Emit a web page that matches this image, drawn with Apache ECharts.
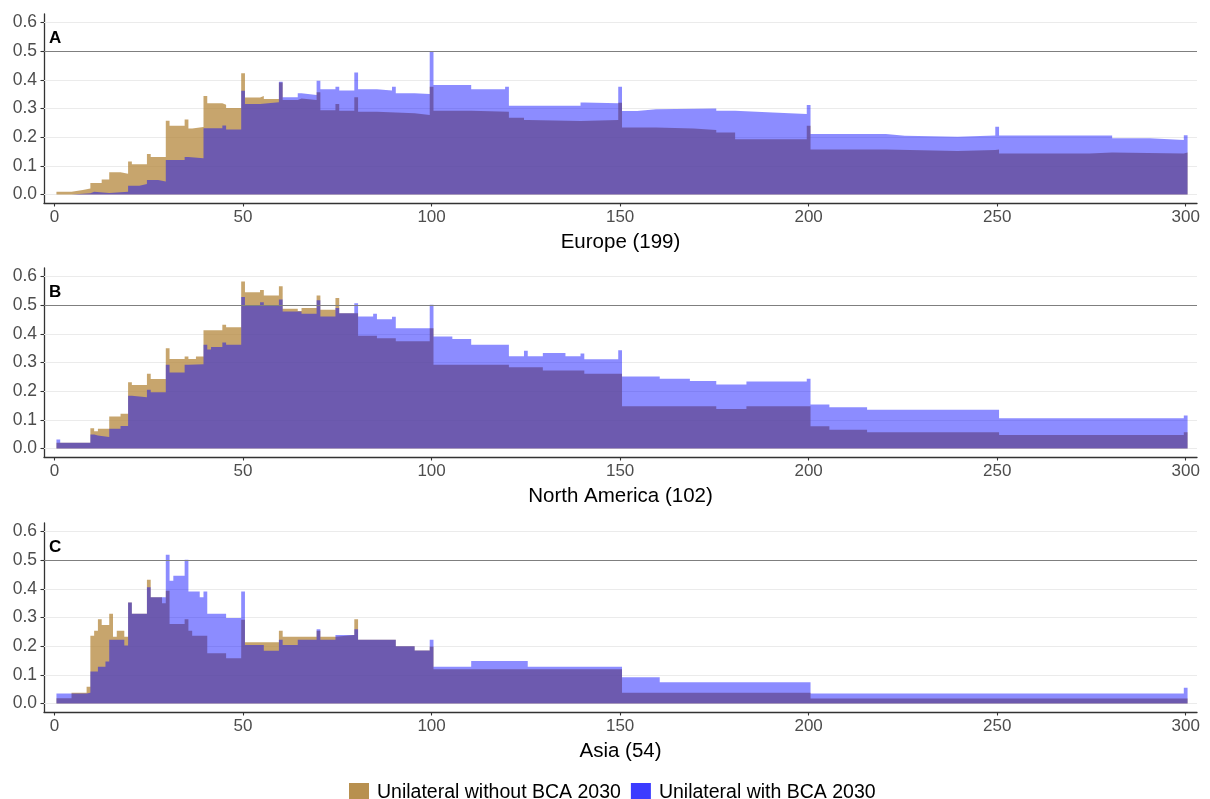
<!DOCTYPE html>
<html>
<head>
<meta charset="utf-8">
<script src="https://cdn.jsdelivr.net/npm/echarts@6/dist/echarts.min.js"></script>
<style>
html,body{margin:0;padding:0;background:#fff;}
#chart{width:1210px;height:799px;}
</style>
</head>
<body>
<div id="chart"></div>
<script>
// ---- data: [fromX, toX, share] step segments ----
const seriesNames = ['Unilateral without BCA 2030', 'Unilateral with BCA 2030'];
const panelTitles = ['Europe (199)', 'North America (102)', 'Asia (54)'];
const panelLetters = ['A', 'B', 'C'];
const xTicks = [0, 50, 100, 150, 200, 250, 300];
const yTicks = [0, 0.1, 0.2, 0.3, 0.4, 0.5, 0.6];
const refLine = 0.5;

const europeWithout = [[1,4,0.009],[5,7,0.015],[8,9,0.021],[10,12,0.040],[13,14,0.052],[15,17,0.077],[18,19,0.072],[20,20,0.115],[21,24,0.105],[25,25,0.141],[26,29,0.131],[30,30,0.257],[31,34,0.240],[35,35,0.262],[36,36,0.230],[37,39,0.235],[40,40,0.344],[41,44,0.318],[45,45,0.313],[46,49,0.302],[50,50,0.423],[51,54,0.338],[55,55,0.344],[56,59,0.333],[60,60,0.391],[61,64,0.330],[65,65,0.335],[66,69,0.330],[70,70,0.357],[71,74,0.294],[75,75,0.316],[76,79,0.292],[80,80,0.339],[81,85,0.289],[86,90,0.286],[91,95,0.283],[96,99,0.277],[100,100,0.376],[101,110,0.292],[111,120,0.289],[121,124,0.268],[125,125,0.260],[126,139,0.256],[140,149,0.260],[150,150,0.320],[151,159,0.234],[160,169,0.230],[170,175,0.225],[176,180,0.216],[181,199,0.193],[200,200,0.240],[201,220,0.157],[221,239,0.152],[240,249,0.155],[250,250,0.157],[251,274,0.143],[275,280,0.146],[281,299,0.143],[300,300,0.146]];
const europeWith = [[1,4,0.0],[5,9,0.004],[10,10,0.009],[11,14,0.005],[15,19,0.009],[20,22,0.030],[23,24,0.036],[25,27,0.050],[28,29,0.045],[30,34,0.120],[35,35,0.131],[36,39,0.126],[40,44,0.231],[45,45,0.241],[46,49,0.227],[50,50,0.362],[51,54,0.316],[55,59,0.322],[60,60,0.393],[61,64,0.339],[65,65,0.353],[66,69,0.347],[70,70,0.397],[71,74,0.367],[75,75,0.376],[76,79,0.363],[80,80,0.426],[81,85,0.367],[86,89,0.363],[90,90,0.376],[91,95,0.353],[96,99,0.351],[100,100,0.499],[101,110,0.382],[111,119,0.367],[120,120,0.376],[121,139,0.310],[140,140,0.321],[141,149,0.318],[150,150,0.376],[151,154,0.291],[155,159,0.297],[160,175,0.300],[176,180,0.292],[181,190,0.286],[191,199,0.281],[200,200,0.312],[201,220,0.211],[221,225,0.205],[226,239,0.201],[240,249,0.206],[250,250,0.236],[251,280,0.206],[281,290,0.196],[291,299,0.190],[300,300,0.207]];

const northAmericaWithout = [[1,9,0.020],[10,10,0.070],[11,11,0.060],[12,14,0.069],[15,17,0.111],[18,19,0.121],[20,20,0.231],[21,24,0.221],[25,25,0.261],[26,29,0.242],[30,30,0.350],[31,34,0.312],[35,35,0.321],[36,37,0.312],[38,39,0.321],[40,44,0.413],[45,45,0.432],[46,49,0.423],[50,50,0.583],[51,54,0.545],[55,55,0.553],[56,59,0.534],[60,60,0.566],[61,64,0.488],[65,65,0.480],[66,69,0.490],[70,70,0.534],[71,74,0.484],[75,75,0.525],[76,80,0.472],[81,85,0.393],[86,90,0.385],[91,99,0.374],[100,100,0.420],[101,120,0.292],[121,129,0.283],[130,140,0.272],[141,150,0.261],[151,175,0.147],[176,183,0.138],[184,200,0.147],[201,205,0.077],[206,215,0.065],[216,250,0.056],[251,299,0.047],[300,300,0.056]];
const northAmericaWith = [[1,1,0.031],[2,9,0.020],[10,10,0.049],[11,11,0.045],[12,14,0.040],[15,17,0.069],[18,19,0.078],[20,20,0.184],[21,24,0.179],[25,25,0.205],[26,29,0.196],[30,30,0.292],[31,34,0.265],[35,35,0.292],[36,39,0.294],[40,40,0.362],[41,41,0.345],[42,44,0.354],[45,45,0.370],[46,49,0.362],[50,50,0.529],[51,54,0.500],[55,55,0.510],[56,59,0.500],[60,60,0.520],[61,65,0.478],[66,69,0.470],[70,70,0.517],[71,74,0.461],[75,75,0.490],[76,79,0.472],[80,80,0.507],[81,84,0.461],[85,85,0.470],[86,89,0.451],[90,90,0.460],[91,99,0.420],[100,100,0.502],[101,105,0.391],[106,110,0.382],[111,120,0.362],[121,124,0.322],[125,125,0.341],[126,129,0.322],[130,135,0.333],[136,139,0.322],[140,140,0.331],[141,149,0.311],[150,150,0.343],[151,160,0.251],[161,168,0.243],[169,175,0.235],[176,183,0.223],[184,199,0.234],[200,200,0.243],[201,205,0.153],[206,215,0.144],[216,250,0.135],[251,299,0.105],[300,300,0.115]];

const asiaWithout = [[1,4,0.018],[5,8,0.037],[9,9,0.058],[10,10,0.236],[11,11,0.254],[12,12,0.294],[13,14,0.274],[15,15,0.313],[16,16,0.233],[17,18,0.254],[19,19,0.233],[20,20,0.352],[21,24,0.313],[25,25,0.432],[26,28,0.371],[29,29,0.350],[30,30,0.393],[31,34,0.277],[35,35,0.294],[36,36,0.254],[37,40,0.236],[41,45,0.175],[46,49,0.158],[50,50,0.292],[51,59,0.214],[60,60,0.254],[61,69,0.233],[70,70,0.254],[71,74,0.233],[75,79,0.239],[80,80,0.294],[81,90,0.222],[91,95,0.200],[96,99,0.185],[100,100,0.198],[101,150,0.119],[151,200,0.037],[201,300,0.0175]];
const asiaWith = [[1,8,0.035],[9,9,0.037],[10,11,0.111],[12,13,0.128],[14,14,0.146],[15,18,0.222],[19,19,0.202],[20,20,0.352],[21,24,0.313],[25,25,0.406],[26,29,0.371],[30,30,0.519],[31,31,0.428],[32,34,0.446],[35,35,0.502],[36,38,0.391],[39,39,0.371],[40,40,0.391],[41,45,0.313],[46,49,0.298],[50,50,0.391],[51,55,0.204],[56,59,0.184],[60,60,0.222],[61,64,0.204],[65,69,0.222],[70,70,0.259],[71,74,0.222],[75,79,0.239],[80,80,0.259],[81,90,0.222],[91,95,0.200],[96,99,0.185],[100,100,0.222],[101,110,0.128],[111,125,0.148],[126,150,0.128],[151,160,0.091],[161,200,0.074],[201,299,0.035],[300,300,0.055]];

const panelData = [
  [europeWithout, europeWith],
  [northAmericaWithout, northAmericaWith],
  [asiaWithout, asiaWith]
];

// ---- build: each segment covers bins from-0.5 .. to+0.5 as a flat top ----
function toSteps(segs) {
  const pts = [];
  segs.forEach(s => {
    pts.push([s[0] - 0.5, s[2]]);
    pts.push([s[1] + 0.5, s[2]]);
  });
  return pts;
}

const FONT = "'Liberation Sans', Arial, sans-serif";
const gridTops = [14, 268, 523];
const gridH = 189;
const fills = ['rgba(180,135,60,0.75)', 'rgba(0,0,255,0.45)'];
const keyColors = ['#b8904f', '#3b3bff'];

const grids = [], xAxes = [], yAxes = [], series = [], titles = [];
panelData.forEach((pd, i) => {
  grids.push({left: 44, right: 13, top: gridTops[i], height: gridH, containLabel: false});
  xAxes.push({
    type: 'value', gridIndex: i, min: -2.8, max: 303,
    name: panelTitles[i], nameLocation: 'middle', nameGap: 29,
    nameTextStyle: {fontSize: 20.5, color: '#000', fontFamily: FONT},
    axisLine: {show: true, onZero: false, lineStyle: {color: '#333', width: 1.3}},
    axisTick: {show: true, customValues: xTicks, length: 3.5, lineStyle: {color: '#333', width: 1.1}},
    axisLabel: {customValues: xTicks, fontSize: 17, color: '#4d4d4d', margin: 6, fontFamily: FONT},
    splitLine: {show: false}
  });
  yAxes.push({
    type: 'value', gridIndex: i, min: -0.03, max: 0.63,
    axisLine: {show: true, onZero: false, lineStyle: {color: '#333', width: 1.3}},
    axisTick: {show: true, customValues: yTicks, length: 3.5, lineStyle: {color: '#333', width: 1.1}},
    axisLabel: {customValues: yTicks, fontSize: 17.5, color: '#4d4d4d', margin: 7, fontFamily: FONT,
                formatter: v => Number(v).toFixed(1)},
    splitLine: {show: false}
  });
  titles.push({text: panelLetters[i], left: 49, top: gridTops[i] + 15.5, padding: 0,
               textStyle: {fontSize: 17, fontWeight: 'bold', color: '#000', fontFamily: FONT}});
  pd.forEach((segs, k) => {
    const s = {
      name: seriesNames[k], type: 'line', xAxisIndex: i, yAxisIndex: i,
      data: toSteps(segs), showSymbol: false, symbol: 'none',
      sampling: null, silent: true, z: 2 + k,
      itemStyle: {color: keyColors[k]},
      lineStyle: {width: 0, opacity: 0},
      areaStyle: {color: fills[k], opacity: 1}
    };
    if (k === 0) {
      s.markLine = {silent: true, symbol: 'none', z: 1, animation: false,
        label: {show: false}, emphasis: {disabled: true},
        lineStyle: {color: '#ebebeb', width: 1.1, type: 'solid'},
        data: yTicks.map(v => ({yAxis: v}))};
    } else {
      s.markLine = {silent: true, symbol: 'none', z: 6, animation: false,
        label: {show: false}, emphasis: {disabled: true},
        lineStyle: {color: '#7f7f7f', width: 1.2, type: 'solid'},
        data: [{yAxis: refLine}]};
    }
    series.push(s);
  });
});

const chart = echarts.init(document.getElementById('chart'), null, {renderer: 'canvas'});
chart.setOption({
  animation: false,
  backgroundColor: '#fff',
  title: titles,
  grid: grids,
  xAxis: xAxes,
  yAxis: yAxes,
  legend: {
    data: seriesNames.map((n, k) => ({name: n, itemStyle: {color: keyColors[k], opacity: 1}})),
    left: 344, top: 778, itemWidth: 20, itemHeight: 20, itemGap: 10, icon: 'rect',
    selectedMode: false,
    textStyle: {fontSize: 19.5, color: '#000', fontFamily: FONT, padding: [0, 0, 0, 3]}
  },
  series: series
});
</script>
</body>
</html>
